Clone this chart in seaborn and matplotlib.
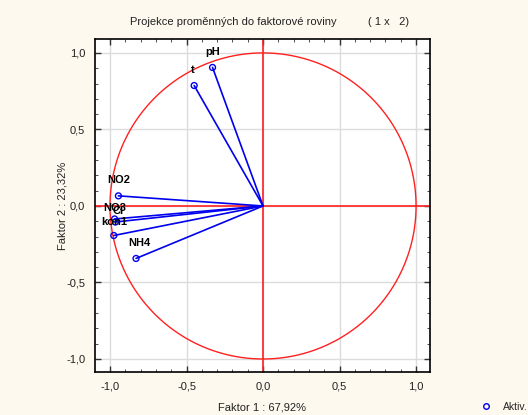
import numpy as np
import pandas as pd
import matplotlib
matplotlib.use("Agg")
import matplotlib.pyplot as plt
import seaborn as sns
from matplotlib.ticker import MultipleLocator, FuncFormatter
from matplotlib.lines import Line2D

variables = ["pH", "t", "NO2", "NO3", "Cl", "kon1", "NH4"]
faktor1 = [-0.33, -0.45, -0.945, -0.97, -0.965, -0.975, -0.83]
faktor2 = [0.905, 0.787, 0.066, -0.085, -0.105, -0.193, -0.343]
label_dx = [0, -1, 0, 0, 3, 0, 3]
label_dy = [10, 11, 11, 6, 6, 8, 10]

df = pd.DataFrame({"var": variables, "f1": faktor1, "f2": faktor2})

sns.set_style("white")
plt.rcParams['font.family'] = ['Liberation Sans', 'DejaVu Sans']

bg = "#fdf9ee"
fig = plt.figure(figsize=(5.28, 4.15), dpi=100, facecolor=bg)
ax = fig.add_axes([95/528, 1 - 372/415, 335/528, 333/415])
ax.set_facecolor("white")

# grid
ax.set_axisbelow(True)
ax.grid(True, color="#dcdcdc", lw=1)

# unit circle
th = np.linspace(0, 2*np.pi, 400)
ax.plot(np.cos(th), np.sin(th), color="#ff2020", lw=1, zorder=2)
ax.axhline(0, color="#ff2020", lw=1.2, zorder=2)
ax.axvline(0, color="#ff2020", lw=1.2, zorder=2)

# vectors
for _, r in df.iterrows():
    ax.plot([0, r.f1], [0, r.f2], color="#0000ee", lw=1.2, zorder=3)
sns.scatterplot(data=df, x="f1", y="f2", ax=ax, marker="o", s=18,
                facecolor="none", edgecolor="#0000ee", linewidth=1.0, zorder=4, legend=False)
for (_, r), dx, dy in zip(df.iterrows(), label_dx, label_dy):
    ax.annotate(r["var"], (r.f1, r.f2), xytext=(dx, dy), textcoords="offset pixels",
                ha="center", va="bottom", fontsize=8, fontweight="bold", color="black", zorder=5)

ax.set_xlim(-1.098, 1.091)
ax.set_ylim(-1.085, 1.091)
ax.xaxis.set_major_locator(MultipleLocator(0.5))
ax.yaxis.set_major_locator(MultipleLocator(0.5))
ax.xaxis.set_minor_locator(MultipleLocator(0.1))
ax.yaxis.set_minor_locator(MultipleLocator(0.1))
fmt = FuncFormatter(lambda v, p: f"{v:.1f}".replace(".", ",").replace("-0,0", "0,0"))
ax.xaxis.set_major_formatter(fmt)
ax.yaxis.set_major_formatter(fmt)
ax.tick_params(which="both", direction="in", top=True, right=True, bottom=True, left=True,
               color="#333333", labelsize=8, labelcolor="#222222")
ax.tick_params(which="major", length=4, width=1, pad=7)
ax.tick_params(which="minor", length=2, width=0.6)
for sp in ax.spines.values():
    sp.set_color("black")
    sp.set_linewidth(1.2)

ax.set_xlabel("Faktor 1 : 67,92%", fontsize=8, color="#222222", labelpad=8)
ax.set_ylabel("Faktor 2 : 23,32%", fontsize=8, color="#222222", labelpad=-1)
fig.text(270/528, 1 - 22/415, "Projekce proměnných do faktorové roviny          ( 1 x   2)",
         ha="center", va="center", fontsize=8, color="#222222")

# legend
fig.legend(handles=[Line2D([], [], marker="o", ls="none", mfc="none", mec="#0000ee",
                           ms=4, mew=1.0, label="Aktiv.")],
           loc="center left", bbox_to_anchor=(476/528, 1 - 407/415), frameon=False,
           fontsize=7.5, handletextpad=0.6, borderpad=0, borderaxespad=0)

fig.savefig("out.png", dpi=100, facecolor=bg)
